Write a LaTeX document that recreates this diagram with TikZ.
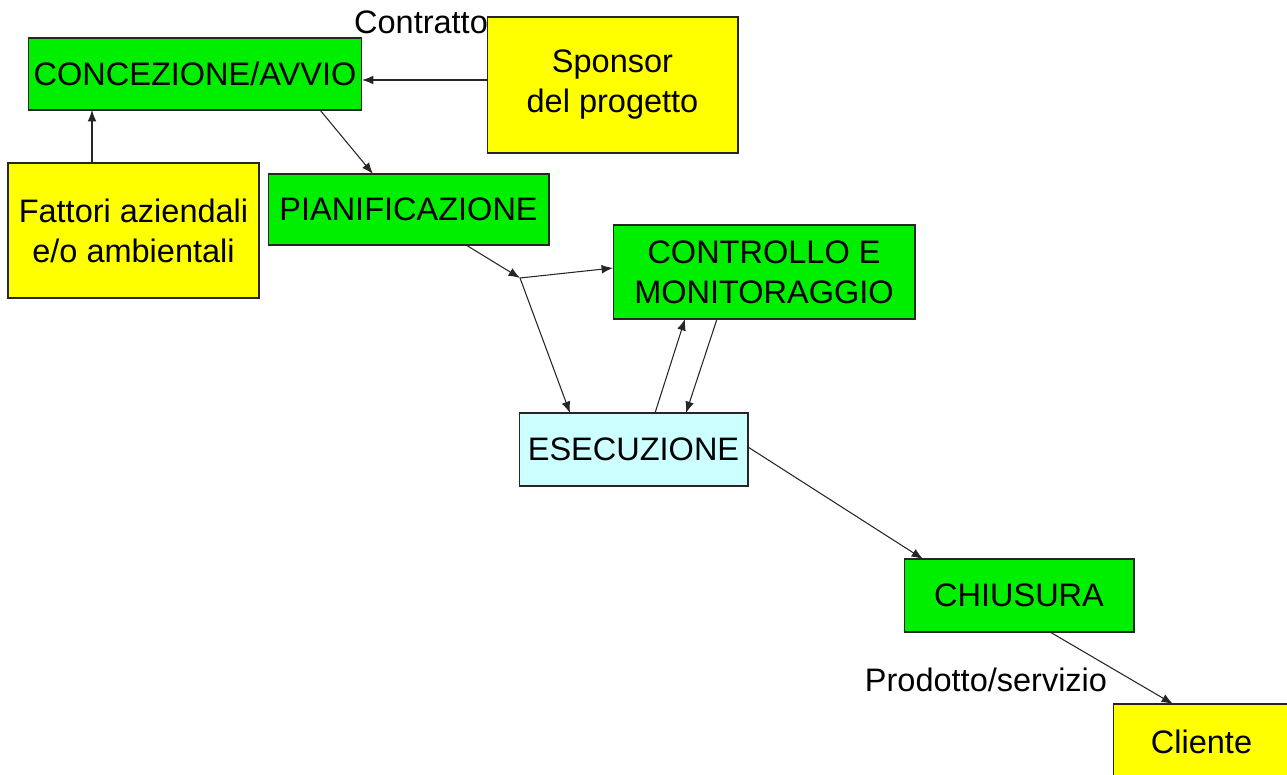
\documentclass[tikz,border=0pt]{standalone}
\usepackage{fontspec}
\setmainfont{Liberation Sans}
\usetikzlibrary{calc,arrows.meta}

\definecolor{fasegreen}{RGB}{0,238,0}
\definecolor{inputyellow}{RGB}{255,255,0}
\definecolor{esecblue}{RGB}{204,255,255}

\tikzset{
  box/.style={draw=black!85, line width=0.6pt, align=center, inner sep=2pt, outer sep=0pt},
  fase/.style={box, fill=fasegreen},
  input/.style={box, fill=inputyellow},
  freccia/.style={draw=black!85, line width=0.6pt, -{Latex[length=6.5pt,width=5pt]}}
}

\begin{document}
\begin{tikzpicture}[x=0.02cm,y=-0.02cm,font=\fontsize{18.5}{22.7}\selectfont]
            \clip (0,0) rectangle (1287,774);
            \fill[white] (0,0) rectangle (1287,774);

            % labels
            \node (lcontratto) at (421,22) {Contratto};
            \node (lprodotto) at (986,680) {Prodotto/servizio};

            % phases
            \node[fase, minimum width=6.68cm, minimum height=1.44cm] (conc) at (195,74) {CONCEZIONE/AVVIO};
            \node[fase, minimum width=5.62cm, minimum height=1.42cm] (pian) at (408.5,209.5) {PIANIFICAZIONE};
            \node[fase, minimum width=6.04cm, minimum height=1.88cm] (contr) at (764,272) {CONTROLLO E\\MONITORAGGIO};
            \node[box, fill=esecblue, minimum width=4.58cm, minimum height=1.46cm] (esec) at (633.5,449.5) {ESECUZIONE};
            \node[fase, minimum width=4.60cm, minimum height=1.46cm] (chius) at (1019,595.5) {CHIUSURA};

            % inputs and outputs
            \node[input, minimum width=5.02cm, minimum height=2.72cm, text depth=0.15cm] (sponsor) at (612.5,85) {Sponsor\\ del progetto};
            \node[input, minimum width=5.02cm, minimum height=2.70cm] (fattori) at (133.5,230.5) {Fattori aziendali\\e/o ambientali};
            \node[input, minimum width=3.54cm, minimum height=1.52cm] (cliente) at (1201.5,742) {Cliente};

            \coordinate (jn) at (520,278);

            % connectors
            \draw[freccia] ($(sponsor.west)+(0,-5)$) -- ($(conc.east)+(0,6)$);
            \draw[freccia] ($(fattori.north)+(-41.5,0)$) -- ($(conc.south)+(-103,0)$);
            \draw[freccia] ($(conc.south)+(125,0)$) -- ($(pian.north)+(-35.5,0)$);
            \draw[freccia] ($(pian.south)+(57.5,0)$) -- (jn);
            \draw[freccia] (jn) -- ($(contr.west)+(0,-4)$);
            \draw[freccia] (jn) -- ($(esec.north)+(-63.5,0)$);
            \draw[freccia] ($(esec.north)+(21.5,0)$) -- ($(contr.south)+(-79,0)$);
            \draw[freccia] ($(contr.south)+(-47,0)$) -- ($(esec.north)+(52.5,0)$);
            \draw[freccia] ($(esec.east)+(0,-2.5)$) -- ($(chius.north)+(-96,0)$);
            \draw[freccia] ($(chius.south)+(31,0)$) -- ($(cliente.north)+(-28.5,0)$);
\end{tikzpicture}
\end{document}
